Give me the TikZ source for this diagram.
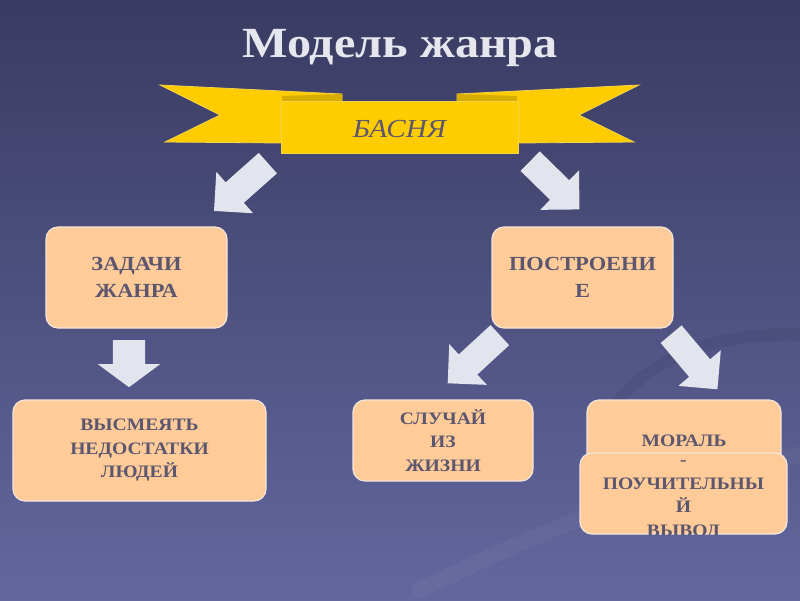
\documentclass[tikz,border=0pt]{standalone}
\usepackage{fontspec}
\setmainfont{Liberation Serif}[FakeStretch=1.12]
\usetikzlibrary{shapes.arrows}
\definecolor{bgtop}{HTML}{3A3B62}
\definecolor{bgmid}{HTML}{565A8E}
\definecolor{bgbot}{HTML}{63679E}
\definecolor{gold}{HTML}{FFCC00}
\definecolor{goldedge}{HTML}{F2D34A}
\definecolor{golddark}{HTML}{D9AC00}
\definecolor{peach}{HTML}{FFCC99}
\definecolor{peachedge}{HTML}{F4E6DC}
\definecolor{txt}{HTML}{5C566E}
\definecolor{arrowc}{HTML}{E2E4EE}
\definecolor{titlec}{HTML}{E6E6EE}
\begin{document}
\begin{tikzpicture}[x=1pt,y=-1pt,
  box/.style={draw=peachedge, line width=1.2pt, fill=peach, rounded corners=12pt,
    text=txt, align=center, inner sep=0pt},
  bigtxt/.style={font=\bfseries\fontsize{20}{27.5}\selectfont},
  smalltxt/.style={font=\bfseries\fontsize{17.5}{23.5}\selectfont},
  barrow/.style={shape=single arrow, fill=arrowc, draw=none, inner xsep=0pt,
    inner ysep=13.5pt, single arrow head extend=14pt, anchor=tail},
  ribbon/.style={fill=gold, draw=goldedge, line width=0.8pt, line join=miter}]
\useasboundingbox (0,0) rectangle (800,600);
\shade[top color=bgtop, middle color=bgmid, bottom color=bgbot] (0,0) rectangle (800,600);
% faint swooshes
\draw[line width=12pt, black, opacity=0.05, line cap=round] (590,470) .. controls (600,380) and (690,330) .. (800,335);
\draw[line width=16pt, white, opacity=0.035, line cap=round] (420,590) .. controls (560,520) and (700,470) .. (800,455);
% title
\node[text=titlec, font=\bfseries\fontsize{43}{43}\selectfont] (title) at (400,48) {Модель жанра};
% ribbon
\draw[ribbon] (160,85) -- (342,94) -- (342,140) -- (282,143) -- (165,142) -- (220,115) -- cycle;
\draw[ribbon] (639,85) -- (457,94) -- (457,140) -- (517,143) -- (634,142) -- (579,115) -- cycle;
\fill[golddark] (282,101) -- (282,96) -- (342,94) -- (342,101) -- cycle;
\fill[golddark] (517,101) -- (517,96) -- (457,94) -- (457,101) -- cycle;
\node[ribbon, minimum width=237pt, minimum height=52pt, inner sep=0pt] (basnya) at (399.5,127) {};
\node[text=txt, font=\itshape\fontsize{26}{26}\selectfont] (basnyat) at (399.5,129) {БАСНЯ};
% arrows
\node[barrow, rotate=221.6, minimum height=72pt] (a1) at (268,163) {};
\node[barrow, rotate=-44.4, minimum height=69pt] (a2) at (530,161) {};
\node[barrow, rotate=-90, inner ysep=16pt, single arrow head extend=15pt,
  single arrow tip angle=107, minimum height=47pt] (a3) at (129,340) {};
\node[barrow, rotate=222.7, minimum height=71pt] (a4) at (500,335) {};
\node[barrow, rotate=-50, minimum height=72pt] (a5) at (671,334) {};
% boxes
\node[box, bigtxt, minimum width=181pt, minimum height=101pt] (zad) at (136.5,277.5) {ЗАДАЧИ\\ЖАНРА};
\node[box, bigtxt, minimum width=181pt, minimum height=101pt] (post) at (582.5,277.5) {ПОСТРОЕНИ\\Е};
\node[box, smalltxt, minimum width=253pt, minimum height=101pt] (vys) at (139.5,450.5) {ВЫСМЕЯТЬ\\НЕДОСТАТКИ\\ЛЮДЕЙ};
\node[box, smalltxt, minimum width=180pt, minimum height=81pt] (sluch) at (443,440.5) {СЛУЧАЙ\\ИЗ\\ЖИЗНИ};
\node[box, minimum width=194pt, minimum height=100pt] (mor) at (684,450) {};
\node[text=txt, smalltxt] (mort) at (684,441) {МОРАЛЬ};
\node[box, minimum width=207pt, minimum height=81pt] (vyv) at (683.5,493.5) {};
\begin{scope}
\clip[rounded corners=12pt] (vyv.south west) rectangle (vyv.north east);
\node[text=txt, smalltxt, align=center] (vyvt) at (683.5,497) {\vphantom{П}-\\ПОУЧИТЕЛЬНЫ\\Й\\ВЫВОД};
\end{scope}
\end{tikzpicture}
\end{document}
